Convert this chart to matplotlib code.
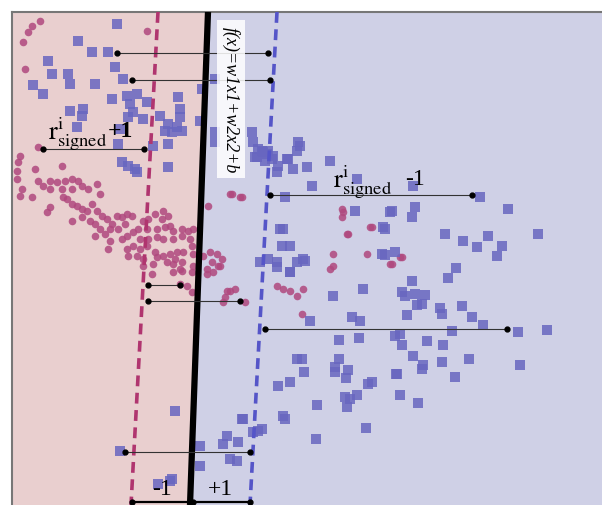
import matplotlib.pyplot as plt

plt.rcParams['mathtext.fontset'] = 'stix'

# decision boundary and the two margins, as (x_top, x_bottom) over (y_top, y_bottom)
y_span = [13, 506]
boundary_x = [208, 190]
margin_neg_x = [158, 131]
margin_pos_x = [277, 250]

# class -1 samples (circles), (x, y)
red_pts = [
    (32, 27), (40, 22), (28, 33), (23, 43), (25, 70), (147, 32), (38, 148),
    (20, 157), (18, 163), (17, 172), (17, 180), (22, 190), (20, 197), (32, 198), (35, 170),
    (38, 182), (43, 187), (50, 182), (50, 190), (57, 183), (62, 167), (65, 182), (62, 190),
    (72, 180), (78, 182), (72, 190), (88, 190), (97, 185), (82, 187), (63, 198), (67, 200),
    (72, 205), (77, 207), (82, 210), (87, 212), (92, 205), (100, 195), (97, 212), (50, 208),
    (47, 213), (72, 222), (82, 218), (90, 222), (95, 225), (102, 217), (107, 220), (112, 225),
    (117, 217), (122, 218), (127, 215), (132, 217), (110, 230), (118, 230), (125, 225),
    (100, 230), (105, 235), (95, 237), (110, 242), (108, 250), (122, 240), (127, 237),
    (133, 233), (138, 230), (143, 222), (148, 220), (155, 215), (163, 212), (168, 217),
    (162, 220), (157, 230), (165, 228), (170, 227), (173, 232), (182, 230), (188, 232),
    (193, 230), (147, 230), (140, 240), (148, 240), (157, 238), (163, 240), (173, 240),
    (182, 237), (190, 240), (127, 250), (133, 247), (140, 250), (147, 247), (155, 253),
    (163, 257), (170, 255), (177, 253), (183, 253), (175, 260), (167, 263), (173, 265),
    (182, 263), (192, 247), (193, 255), (128, 257), (137, 257), (143, 260), (153, 265),
    (157, 258), (143, 267), (193, 267), (192, 273), (173, 273), (182, 272), (152, 275),
    (187, 287), (192, 293),
    (210, 253), (217, 255), (222, 260), (212, 263), (218, 267), (213, 273), (207, 270),
    (208, 207), (230, 195), (240, 198), (230, 292), (235, 290), (225, 298), (223, 303),
    (245, 303), (180, 270), (203, 257), (220, 267), (207, 275), (180, 285), (227, 292),
    (342, 210), (342, 218), (348, 235), (370, 228), (232, 195), (242, 198), (343, 213),
    (347, 235), (372, 228), (333, 255), (333, 267), (330, 270), (367, 255), (392, 265),
    (402, 258), (390, 265), (303, 290), (302, 315), (400, 258),
    (277, 287), (283, 290), (290, 292), (297, 297),
]

# class +1 samples (squares), (x, y)
blue_pts = [
    (117, 25), (78, 42), (92, 53), (108, 53), (115, 68), (48, 62), (52, 75), (68, 75),
    (33, 86), (43, 95), (70, 85), (95, 85), (123, 80), (112, 100), (127, 97), (137, 95),
    (147, 103), (130, 105), (133, 113), (143, 120), (70, 112), (83, 110), (82, 117),
    (128, 118), (160, 117), (178, 98), (180, 110), (180, 118), (168, 125), (165, 132),
    (177, 128), (182, 132), (172, 133), (168, 145), (200, 122), (202, 90), (215, 80),
    (77, 128), (120, 130), (118, 145), (153, 147), (122, 163), (128, 167), (135, 170),
    (137, 173), (168, 168),
    (215, 133), (215, 143), (252, 133), (253, 143), (258, 150), (263, 153), (268, 152),
    (273, 157), (255, 158), (265, 162), (278, 167), (287, 160), (293, 170), (277, 173),
    (298, 143), (285, 198), (283, 230), (262, 152), (267, 155), (272, 160), (257, 158),
    (288, 160), (297, 152), (307, 168), (312, 187), (330, 162), (357, 180), (280, 230),
    (282, 247), (290, 247), (277, 263), (297, 263), (303, 260), (290, 273),
    (355, 212), (383, 228), (390, 213), (382, 255), (395, 253), (300, 147), (413, 187),
    (480, 198), (392, 212), (415, 208), (412, 218), (385, 230), (508, 210), (445, 235),
    (463, 242), (488, 237), (477, 248), (502, 247), (538, 235), (497, 257), (385, 256),
    (456, 269), (448, 279), (412, 282), (402, 293), (405, 297), (415, 295), (425, 296),
    (417, 306), (422, 305), (440, 309), (442, 315), (462, 307), (472, 318), (483, 326),
    (407, 316), (452, 332), (395, 337), (400, 335), (402, 346), (427, 342), (443, 346),
    (413, 357), (423, 366), (422, 370), (442, 363), (469, 360), (520, 366), (518, 333),
    (547, 331), (396, 375), (455, 378), (305, 262), (333, 297), (363, 290), (310, 322),
    (352, 318), (360, 322), (339, 341), (359, 339), (302, 360), (304, 373), (339, 360),
    (335, 368), (335, 373), (348, 371), (346, 379), (397, 375), (372, 383), (368, 385),
    (345, 398), (350, 400), (357, 396), (347, 408), (400, 396), (418, 404), (317, 406),
    (366, 429), (316, 440),
    (260, 263), (268, 260), (277, 268), (290, 273), (297, 360), (278, 387), (290, 383),
    (283, 417), (175, 412), (242, 420), (258, 432), (262, 430), (200, 447), (227, 437),
    (223, 445), (238, 443), (230, 460), (237, 462), (200, 467), (120, 452), (172, 480),
    (158, 485), (170, 482), (243, 420), (285, 420), (253, 433),
]
red_x, red_y = zip(*red_pts)
blue_x, blue_y = zip(*blue_pts)

# signed distance segments: (x_from, x_to, y)
dist_x0 = [117, 132, 43, 270, 148, 148, 265, 125]
dist_x1 = [268, 270, 144, 472, 180, 240, 507, 250]
dist_y = [54, 81, 150, 196, 286, 302, 330, 453]

# margin width markers along the bottom
width_x0 = [132, 193]
width_x1 = [190, 250]
width_y = 503
width_labels = ['-1', '+1']
width_label_x = [162, 220]

pink_bg = '#e9cfcf'
lav_bg = '#cfd0e6'
red_c = '#b0487e'
blue_c = '#6866c0'

fig = plt.figure(figsize=(6.02, 5.06), dpi=100)
ax = fig.add_axes([12 / 602, 0, 590 / 602, 493 / 506])
ax.set_xlim(12, 602)
ax.set_ylim(506, 13)

# shaded half-planes either side of the boundary
ax.fill_betweenx(y_span, 12, boundary_x, color=pink_bg, lw=0, zorder=0)
ax.fill_betweenx(y_span, boundary_x, 602, color=lav_bg, lw=0, zorder=0)

ax.scatter(red_x, red_y, s=30, marker='o', color=red_c, alpha=0.85, lw=0, zorder=2)
ax.scatter(blue_x, blue_y, s=44, marker='s', color=blue_c, alpha=0.85, lw=0, zorder=2)

ax.plot(margin_neg_x, y_span, color='#b0356f', lw=2.6, ls=(0, (3, 1.8)), zorder=3)
ax.plot(margin_pos_x, y_span, color='#5555c8', lw=2.6, ls=(0, (3, 1.8)), zorder=3)
ax.plot(boundary_x, y_span, color='black', lw=4.5, solid_capstyle='butt', zorder=4)

for x0, x1, y in zip(dist_x0, dist_x1, dist_y):
    ax.plot([x0, x1], [y, y], color='#333333', lw=0.8, marker='o', ms=3.5,
            mfc='black', mec='black', zorder=5)

for x0, x1 in zip(width_x0, width_x1):
    ax.plot([x0, x1], [width_y, width_y], color='black', lw=1.6, marker='o', ms=3.5,
            zorder=5)
for lab, x in zip(width_labels, width_label_x):
    ax.text(x, 490, lab, ha='center', va='center', fontsize=17,
            family='Liberation Serif', zorder=6)

ax.text(231, 100, 'f(x)=w1x1+w2x2+b', rotation=-90, ha='center', va='center',
        fontsize=13, family='Liberation Serif', style='italic', zorder=6,
        bbox=dict(boxstyle='square,pad=0.3', fc='white', ec='none', alpha=0.85))

ax.text(48, 140, r'$\mathrm{r}^{\mathrm{i}}_{\mathrm{signed}}$', fontsize=19,
        family='Liberation Serif', va='baseline', zorder=6)
ax.text(108, 137, '+1', fontsize=17, family='Liberation Serif', fontweight='bold',
        va='baseline', zorder=6)
ax.text(333, 188, r'$\mathrm{r}^{\mathrm{i}}_{\mathrm{signed}}$', fontsize=19,
        family='Liberation Serif', va='baseline', zorder=6)
ax.text(405, 185, '-1', fontsize=17, family='Liberation Serif', va='baseline', zorder=6)

ax.set_xticks([])
ax.set_yticks([])
for side in ['right', 'bottom']:
    ax.spines[side].set_visible(False)
for side in ['left', 'top']:
    ax.spines[side].set_color('#777777')
    ax.spines[side].set_linewidth(1.5)

fig.savefig('out.png', dpi=100)
